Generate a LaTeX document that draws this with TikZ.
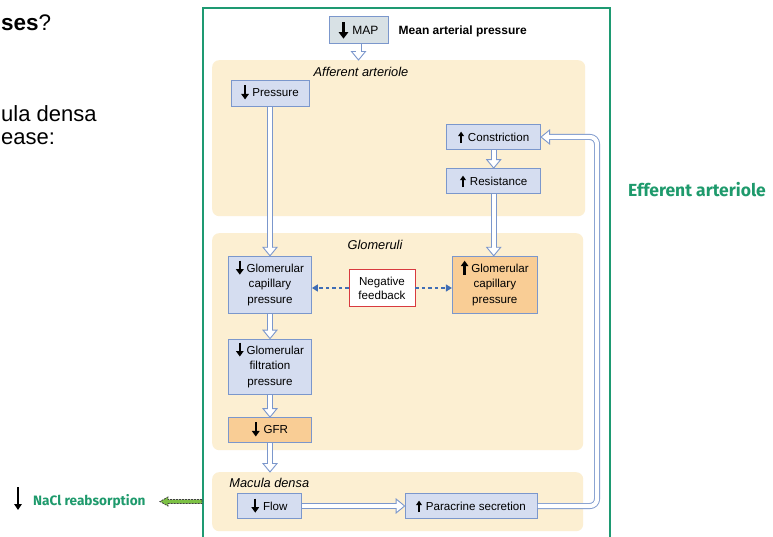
\documentclass[tikz,border=0pt]{standalone}
\usepackage{fontspec}
\setmainfont{Liberation Sans}
\newfontfamily\gfont{Fira Sans}
\usetikzlibrary{arrows.meta,decorations.markings}
\definecolor{regfill}{HTML}{FCEFD2}
\definecolor{bfill}{HTML}{D5DDF0}
\definecolor{bbord}{HTML}{7B97CC}
\definecolor{ofill}{HTML}{F9CD95}
\definecolor{mapfill}{HTML}{D8E1E5}
\definecolor{dblue}{HTML}{3F6DB5}
\definecolor{nfred}{HTML}{D83A3F}
\definecolor{gframe}{HTML}{1E9A72}
\definecolor{gtext}{HTML}{1E9A6C}
\definecolor{ngreen}{HTML}{7CC144}
\newcommand\dnA{\smash{\tikz[baseline=0pt]\draw[black,solid,line width=2.3pt,-{Triangle[length=5.5pt,width=7.5pt]}] (0pt,11.5pt) -- (0pt,-2.5pt);}}
\newcommand\dnB{\smash{\tikz[baseline=0pt]\draw[black,solid,line width=3pt,-{Triangle[length=6.5pt,width=9.5pt]}] (0pt,12pt) -- (0pt,-4.5pt);}}
\newcommand\upA{\smash{\tikz[baseline=0pt]\draw[black,solid,line width=1.7pt,-{Triangle[length=4.5pt,width=5.8pt]}] (0pt,-2pt) -- (0pt,9.5pt);}}
\newcommand\upB{\smash{\tikz[baseline=0pt]\draw[black,solid,line width=2.3pt,-{Triangle[length=5.5pt,width=7.5pt]}] (0pt,-2.5pt) -- (0pt,11.5pt);}}
\newcommand\hol[1]{%
  \draw[holout] #1;
  \path[holtip] #1;
  \draw[holin] #1;}
\begin{document}
\begin{tikzpicture}[x=1pt,y=-1pt,
  region/.style={fill=regfill, rounded corners=7pt, inner sep=0pt, draw=none, anchor=north west},
  reglab/.style={font=\itshape\fontsize{12.8}{15}\selectfont, inner sep=0pt},
  box/.style={draw=bbord, fill=bfill, line width=0.8pt, align=center, inner sep=0pt,
    font=\fontsize{11.6}{15.5}\selectfont},
  obox/.style={box, fill=ofill},
  holout/.style={draw=bbord, line width=6pt, shorten >=7pt, rounded corners=7pt},
  holin/.style={draw=white, line width=4.2pt, shorten >=7.3pt, shorten <=0.4pt, rounded corners=7pt},
  holtip/.style={decoration={markings, mark=at position 1 with {\draw[bbord, fill=white, line width=0.9pt, line join=miter] (-8.5pt,-7pt) -- (0pt,0pt) -- (-8.5pt,7pt) -- cycle;}}, decorate},
  fbarrow/.style={draw=dblue, line width=1.4pt, dash pattern=on 3.5pt off 3pt, -{Triangle[length=6pt,width=7pt]}},
  gtxt/.style={text=gtext, font=\gfont\bfseries\fontsize{17.5}{20}\selectfont, inner sep=0pt, anchor=west}
]
\useasboundingbox (0,0) rectangle (773,537);
\fill[white] (0,0) rectangle (773,537);

% left-hand slide text
\node[anchor=base west, inner sep=0pt, font=\fontsize{22.5}{26}\selectfont] (q1) at (1,31) {\textbf{ses}?};
\node[anchor=base west, inner sep=0pt, font=\fontsize{22}{26}\selectfont] (q2) at (1,121.7) {ula densa};
\node[anchor=base west, inner sep=0pt, font=\fontsize{22}{26}\selectfont] (q3) at (1,145) {ease:};

% frame
\draw[gframe, line width=2pt] (203,537) -- (203,8) -- (610,8) -- (610,537);

% regions
\node[region, minimum width=373pt, minimum height=156pt] (aff) at (212,60) {};
\node[region, minimum width=371pt, minimum height=217pt] (glom) at (212,233) {};
\node[region, minimum width=371pt, minimum height=59pt] (mac) at (212,472) {};
\node[reglab] (afflab) at (361,71.7) {Afferent arteriole};
\node[reglab] (glomlab) at (375,245) {Glomeruli};
\node[reglab] (maclab) at (269.3,483.3) {Macula densa};

% boxes
\node[box, fill=mapfill, minimum width=59pt, minimum height=27pt, font=\fontsize{12}{14}\selectfont] (map) at (358.5,30) {\dnB\hspace{4pt}MAP};
\node[anchor=west, inner sep=0pt, font=\bfseries\fontsize{12}{14}\selectfont] (mapl) at (398.5,31.5) {Mean arterial pressure};
\node[box, minimum width=78pt, minimum height=26pt] (pres) at (270,93) {\dnA\hspace{3.5pt}Pressure};
\node[box, minimum width=94pt, minimum height=25pt] (con) at (493.7,137) {\upA\hspace{4pt}Constriction};
\node[box, minimum width=94pt, minimum height=25pt] (res) at (493.7,181) {\upA\hspace{4pt}Resistance};
\node[box, minimum width=83pt, minimum height=57pt] (gcpL) at (270,284.7) {\dnA\hspace{3pt}Glomerular\\capillary\\pressure};
\node[box, fill=white, draw=nfred, minimum width=66pt, minimum height=37pt, font=\fontsize{11.6}{14}\selectfont] (nf) at (382,288) {Negative\\feedback};
\node[obox, minimum width=85pt, minimum height=57pt] (gcpR) at (494.8,284.7) {\upB\hspace{3pt}Glomerular\\capillary\\pressure};
\node[box, minimum width=83pt, minimum height=55pt] (gfp) at (270,366.5) {\dnA\hspace{3pt}Glomerular\\filtration\\pressure};
\node[obox, minimum width=83pt, minimum height=25pt] (gfr) at (270,430) {\dnA\hspace{4pt}GFR};
\node[box, minimum width=64pt, minimum height=25pt] (flow) at (269.5,506) {\dnA\hspace{4pt}Flow};
\node[box, minimum width=132pt, minimum height=25pt] (para) at (471,506) {\upA\hspace{4pt}Paracrine secretion};
\coordinate (loopx) at (597,0);

% hollow arrows
\hol{(map.south) -- (map.south |- aff.north)}
\hol{(pres.south) -- (pres.south |- gcpL.north)}
\hol{(con.south) -- (res.north)}
\hol{(res.south) -- (res.south |- gcpR.north)}
\hol{(gcpL.south) -- (gfp.north)}
\hol{(gfp.south) -- (gfr.north)}
\hol{(gfr.south) -- (gfr.south |- mac.north)}
\hol{(flow.east) -- (para.west)}
\hol{(para.east) -- (para.east -| loopx) -- (con.east -| loopx) -- (con.east)}

% negative feedback
\draw[fbarrow] (nf.west) -- (nf.west -| gcpL.east);
\draw[fbarrow] (nf.east) -- (nf.east -| gcpR.west);

% efferent label
\node[gtxt] (eff) at (628,190) {Efferent arteriole};

% NaCl
\draw[black, line width=1.8pt, -{Triangle[length=6pt,width=7.5pt]}] (18,487) -- (18,510);
\node[gtxt, font=\gfont\bfseries\fontsize{13.6}{16}\selectfont] (nacl) at (33,501) {NaCl reabsorption};
\draw[fill=ngreen, draw=black!75, line width=0.8pt, dash pattern=on 2pt off 1pt, line join=miter]
  (202,499.5) -- (168,499.5) -- (168,497) -- (160,501.5) -- (168,506) -- (168,503.5) -- (202,503.5) -- cycle;
\end{tikzpicture}
\end{document}
